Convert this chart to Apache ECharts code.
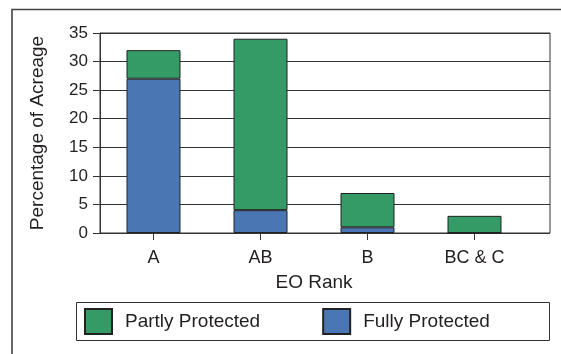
<!DOCTYPE html>
<html>
<head>
<meta charset="utf-8">
<script src="https://cdn.jsdelivr.net/npm/echarts@6/dist/echarts.min.js"></script>
<style>html,body{margin:0;padding:0;background:#fff;}#c{width:561px;height:354px;}</style>
</head>
<body>
<div id="c"></div>
<script>
var categories = ['A', 'AB', 'B', 'BC & C'];
var fullyProtected = [27, 4, 1, 0];
var partlyProtected = [5, 30, 6, 3];
var yTicks = [0, 5, 10, 15, 20, 25, 30, 35];
var seriesNames = ['Partly Protected', 'Fully Protected'];

var FONT = '"Liberation Sans", Arial, sans-serif';
var TXT = '#231f20';
var chart = echarts.init(document.getElementById('c'), null, {renderer: 'canvas'});
chart.setOption({
  animation: false,
  backgroundColor: '#fff',
  textStyle: {fontFamily: FONT, color: TXT},
  grid: [
    {left: 100, right: 33, top: 33, bottom: 121, show: false},
    {left: 100, right: 11, top: 33, bottom: 121, show: true, borderColor: '#333', borderWidth: 1, backgroundColor: 'transparent'}
  ],
  xAxis: [
    {
      gridIndex: 0, type: 'category', data: categories,
      axisLine: {show: false},
      axisTick: {show: true, alignWithLabel: true, length: 7, lineStyle: {color: '#333'}},
      axisLabel: {fontSize: 18, color: TXT, margin: 16, fontFamily: FONT},
      name: 'EO Rank', nameLocation: 'middle', nameGap: 40,
      nameTextStyle: {fontSize: 19, color: TXT, fontFamily: FONT}
    },
    {gridIndex: 1, type: 'value', show: false}
  ],
  yAxis: [
    {gridIndex: 0, type: 'value', min: yTicks[0], max: yTicks[yTicks.length - 1], interval: 5, show: false},
    {
      gridIndex: 1, type: 'value', min: yTicks[0], max: yTicks[yTicks.length - 1], interval: 5,
      axisLine: {show: true, lineStyle: {color: '#333'}},
      axisTick: {show: true, length: 7, lineStyle: {color: '#333'}},
      axisLabel: {fontSize: 17, color: TXT, margin: 12, fontFamily: FONT},
      splitLine: {show: true, lineStyle: {color: '#333', width: 1}},
      name: 'Percentage of Acreage', nameLocation: 'middle', nameGap: 53,
      nameTextStyle: {fontSize: 19, color: TXT, fontFamily: FONT}
    }
  ],
  legend: {
    data: seriesNames,
    left: 79, top: 303,
    itemWidth: 27, itemHeight: 25, itemGap: 62,
    icon: 'rect',
    textStyle: {fontSize: 19, color: TXT, fontFamily: FONT, padding: [0, 0, 0, 8]}
  },
  graphic: [
    {type: 'polyline', shape: {points: [[12, 354], [12, 9.5], [561, 9.5]]}, style: {stroke: '#444', lineWidth: 1.6, fill: null}, silent: true},
    {type: 'rect', shape: {x: 76.5, y: 302.5, width: 473, height: 38}, style: {stroke: '#333', lineWidth: 1, fill: null}, silent: true, z: -1}
  ],
  series: [
    {
      name: seriesNames[1], type: 'bar', stack: 'eo', xAxisIndex: 0, yAxisIndex: 0,
      data: fullyProtected, barWidth: 54,
      itemStyle: {color: '#4a76b4', borderColor: '#222', borderWidth: 1}
    },
    {
      name: seriesNames[0], type: 'bar', stack: 'eo', xAxisIndex: 0, yAxisIndex: 0,
      data: partlyProtected, barWidth: 54,
      itemStyle: {color: '#349a66', borderColor: '#222', borderWidth: 1}
    }
  ]
});
</script>
</body>
</html>
